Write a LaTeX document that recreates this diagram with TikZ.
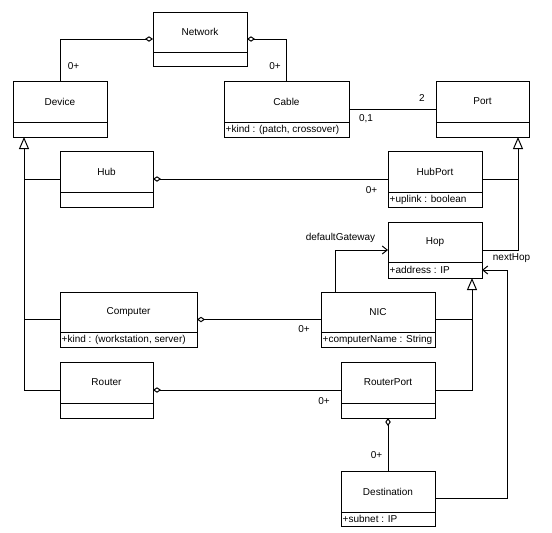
\documentclass[tikz,border=0pt]{standalone}
\usepackage{fontspec}
\setmainfont{Liberation Sans}
\usetikzlibrary{arrows.meta,calc}
\tikzset{
  clsbox/.style={draw, line width=1pt, inner sep=0pt, outer sep=0pt, anchor=north west},
  ttl/.style={inner sep=0pt, font=\fontsize{10}{12}\selectfont},
  attr/.style={inner sep=0pt, anchor=west, font=\fontsize{10}{12}\selectfont},
  mult/.style={inner sep=0pt, font=\fontsize{10}{12}\selectfont},
  conn/.style={line width=1pt},
  agg/.style={conn, {Diamond[open, length=8pt, width=5.5pt, line width=1pt]}-},
  gen/.style={conn, -{Triangle[open, length=12pt, width=10pt, line width=1pt]}},
  nav/.style={conn, -{Straight Barb[length=5pt, width=8pt, line width=1pt]}}
}
% #1 name, #2 x, #3 y, #4 w, #5 h, #6 upper height, #7 title, #8 attribute
\newcommand{\umlcls}[8]{%
  \node[clsbox, minimum width=#4pt, minimum height=#5pt] (#1) at (#2,#3) {};
  \path (#1.north west) ++(0,#6) coordinate (#1-dl);
  \path (#1.north east) ++(0,#6) coordinate (#1-dr);
  \draw[conn] (#1-dl) -- (#1-dr);
  \node[ttl] (#1-t) at ($(#1.north)!0.5!(#1.north |- #1-dl)$) {#7};
  \coordinate (#1-ac) at ($(#1-dl)!0.5!(#1.south west)$);
  \def\tmpattr{#8}\ifx\tmpattr\empty\else
  \node[attr] (#1-a) at ([xshift=1.5pt]#1-ac) {#8};\fi
}
\begin{document}
\begin{tikzpicture}[x=1pt, y=-1pt]
\fill[white] (0,0) rectangle (552,533);
\useasboundingbox (0,0) rectangle (552,533);

\umlcls{net}{153}{12}{94}{54}{40}{Network}{}
\umlcls{dev}{13}{81}{94}{56}{41}{Device}{}
\umlcls{cab}{224}{81}{125}{56}{41}{Cable}{+kind : (patch, crossover)}
\umlcls{port}{436}{81}{93}{56}{41}{Port}{}
\umlcls{hub}{60}{151}{93}{56}{41}{Hub}{}
\umlcls{hubport}{388}{151}{94}{56}{41}{HubPort}{+uplink : boolean}
\umlcls{hop}{388}{222}{94}{56}{40}{Hop}{+address : IP}
\umlcls{comp}{60}{292}{137}{55}{40}{Computer}{+kind : (workstation, server)}
\umlcls{nic}{321}{292}{114}{55}{40}{NIC}{+computerName : String}
\umlcls{router}{60}{362}{93}{56}{41}{Router}{}
\umlcls{rport}{341}{362}{94}{56}{41}{RouterPort}{}
\umlcls{dest}{341}{471}{94}{55}{41}{Destination}{+subnet : IP}

% helper coordinates
\coordinate (devg) at ([xshift=11pt]dev.south west);
\coordinate (portg) at ([xshift=-11pt]port.south east);
\coordinate (hopg) at ([xshift=-10pt]hop.south east);
\coordinate (nicg) at ([xshift=14pt]nic.north west);
\coordinate (hopn) at (hop.east |- hop-ac);
\coordinate (nh) at ([xshift=25pt]hop.east);

% aggregations
\draw[agg] (net.west) -| (dev.north);
\draw[agg] (net.east) -| (cab.north);
\draw[agg] (hub.east) -- (hubport.west);
\draw[agg] (comp.east) -- (nic.west);
\draw[agg] (router.east) -- (rport.west);
\draw[agg] (rport.south) -- (dest.north);

% association
\draw[conn] (cab.east) -- (port.west);

% generalizations
\draw[gen] (router.west) -| (devg);
\draw[conn] (comp.west) -- (comp.west -| devg);
\draw[conn] (hub.west) -- (hub.west -| devg);
\draw[gen] (hop.east) -| (portg);
\draw[conn] (hubport.east) -- (hubport.east -| portg);
\draw[gen] (rport.east) -| (hopg);
\draw[conn] (nic.east) -- (nic.east -| hopg);

% navigable associations
\draw[nav] (nicg) |- (hop.west);
\draw[nav] (dest.east) -| (nh |- hopn) -- (hopn);

% labels
\node[mult] (m1) at (73.5,66) {0+};
\node[mult] (m2) at (275,66) {0+};
\node[mult] (m3) at (422,98) {2};
\node[mult] (m4) at (366,119) {0,1};
\node[mult] (m5) at (371.5,190) {0+};
\node[mult] (m6) at (304,329) {0+};
\node[mult] (m7) at (324,401) {0+};
\node[mult] (m8) at (376.5,455) {0+};
\node[mult] (dg) at (340.5,238) {defaultGateway};
\node[mult] (nhl) at (511.5,258) {nextHop};
\end{tikzpicture}
\end{document}
